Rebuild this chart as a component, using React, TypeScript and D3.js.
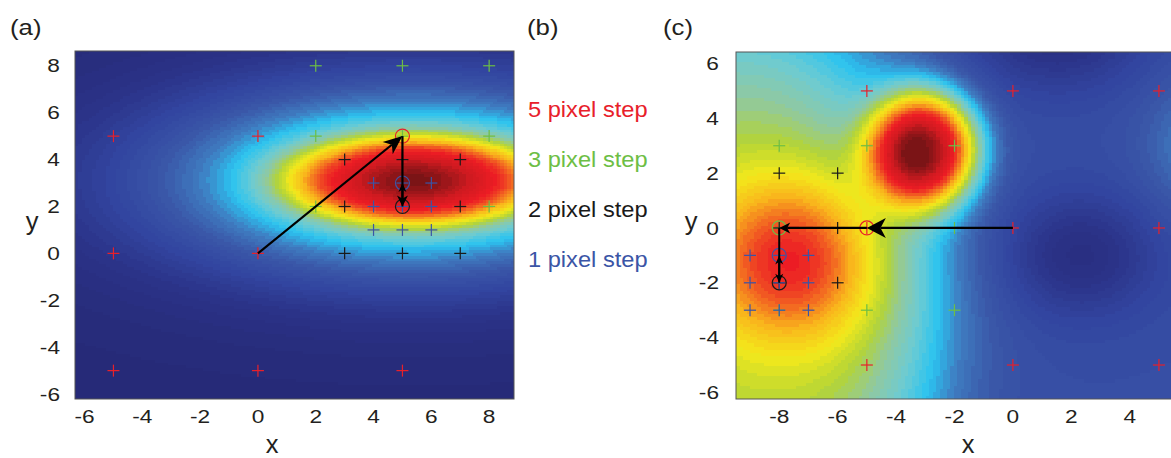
import React, { useMemo } from 'react';
import * as d3 from 'd3';

const W = 1171;
const H = 458;
const FONT = 'Liberation Sans, Arial, Helvetica, sans-serif';

// Axis ranges of the two surfaces
const aXRange = [-6.33, 8.86];
const aYRange = [-6.21, 8.63];
const cXRange = [-9.48, 5.55];
const cYRange = [-6.24, 6.42];

// Tick labels
const aXTicks = [-6, -4, -2, 0, 2, 4, 6, 8];
const aYTicks = [-6, -4, -2, 0, 2, 4, 6, 8];
const cXTicks = [-8, -6, -4, -2, 0, 2, 4];
const cYTicks = [-6, -4, -2, 0, 2, 4, 6];

// Jet-like colour map (value stops and colours)
const cmapStops = [0, 0.08, 0.16, 0.24, 0.31, 0.375, 0.44, 0.5, 0.56, 0.625, 0.7, 0.75, 0.8, 0.84, 0.92, 1];
const cmapColors = [
  '#262A78', '#2B3388', '#3245A0', '#3A57A8', '#3F7BC0', '#2BC3F0', '#6ECBD2', '#8FC9A2',
  '#B4D437', '#F3E91B', '#F9B51C', '#F47920', '#EE3E24', '#EC1C24', '#D01A20', '#7B1416',
];

// Surface components: [centre x, centre y, spread x, spread y, exponent, amplitude]
const surfaceABase = 0;
const surfaceA: number[][] = [
  [5.4, 3.1, 9.1, 4.2, 2, 0.6],
  [5.4, 3.1, 4.5, 1.9, 4, 0.33],
  [5.4, 3.1, 2.0, 0.9, 2, 0.07],
];
const surfaceCBase = 0.2;
const surfaceC: number[][] = [
  [-9.5, -3, 7.4, 11.7, 4, 0.36],
  [-7.6, -1.2, 3.0, 3.0, 2, 0.28],
  [-3.0, 2.9, 1.9, 2.15, 2.6, 0.67],
  [2.3, -1, 2.6, 2.2, 2, -0.15],
  [1.5, 7.3, 3, 2.2, 2, -0.16],
  [6.5, 3, 2, 2.5, 2, 0.12],
];

// Search points per step size, panel (a)
const aStep5 = [[-5, 5], [0, 5], [-5, 0], [0, 0], [-5, -5], [0, -5], [5, -5]];
const aStep3 = [[2, 8], [5, 8], [8, 8], [2, 5], [5, 5], [8, 5], [2, 2], [8, 2]];
const aStep2 = [[3, 4], [5, 4], [7, 4], [3, 2], [7, 2], [3, 0], [5, 0], [7, 0]];
const aStep1 = [[4, 3], [5, 3], [6, 3], [4, 2], [5, 2], [6, 2], [4, 1], [5, 1], [6, 1]];
// Search points per step size, panel (c)
const cStep5 = [[-5, 5], [0, 5], [5, 5], [-5, 0], [0, 0], [5, 0], [-5, -5], [0, -5], [5, -5]];
const cStep3 = [[-8, 3], [-5, 3], [-2, 3], [-8, 0], [-2, 0], [-8, -3], [-5, -3], [-2, -3]];
const cStep2 = [[-8, 2], [-6, 2], [-8, 0], [-6, 0], [-8, -2], [-6, -2]];
const cStep1 = [[-9, -1], [-8, -1], [-7, -1], [-9, -2], [-8, -2], [-7, -2], [-9, -3], [-8, -3], [-7, -3]];

// Selected point at each step: [step, x, y]
const aChosen = [[5, 5, 5], [2, 5, 2], [1, 5, 3]];
const cChosen = [[5, -5, 0], [3, -8, 0], [2, -8, -2], [1, -8, -1]];

// Moves: [step, x1, y1, x2, y2]
const aMoves = [[5, 0, 0, 5, 5], [3, 5, 5, 5, 2], [1, 5, 2, 5, 3]];
const cMoves = [[5, 0, 0, -5, 0], [3, -5, 0, -8, 0], [2, -8, 0, -8, -2], [1, -8, -2, -8, -1]];

const stepSizes = [5, 3, 2, 1];
const stepLabels = ['5 pixel step', '3 pixel step', '2 pixel step', '1 pixel step'];
const stepColors = ['#E8202A', '#6DBE45', '#1A1A1A', '#3B55A6'];

const colorOf = (step: number) => stepColors[stepSizes.indexOf(step)];

const cmap = d3.scaleLinear<string>().domain(cmapStops).range(cmapColors).interpolate(d3.interpolateRgb).clamp(true);
const LEVELS = 64;
const lut = d3.range(LEVELS).map((i) => d3.rgb(cmap(i / (LEVELS - 1))));

function evalSurface(base: number, comps: number[][], x: number, y: number) {
  let v = base;
  for (const [cx, cy, sx, sy, p, amp] of comps) {
    const r = Math.hypot((x - cx) / sx, (y - cy) / sy);
    v += amp * Math.exp(-Math.pow(r, p));
  }
  return Math.max(0, Math.min(1, v));
}

function surfaceImage(xr: number[], yr: number[], base: number, comps: number[][], cell: number) {
  const cols = Math.round((xr[1] - xr[0]) / cell);
  const rows = Math.round((yr[1] - yr[0]) / cell);
  const dx = (xr[1] - xr[0]) / cols;
  const dy = (yr[1] - yr[0]) / rows;
  const canvas = document.createElement('canvas');
  canvas.width = cols;
  canvas.height = rows;
  const ctx = canvas.getContext('2d')!;
  const img = ctx.createImageData(cols, rows);
  for (let j = 0; j < rows; j++) {
    const y = yr[1] - (j + 0.5) * dy;
    for (let i = 0; i < cols; i++) {
      const x = xr[0] + (i + 0.5) * dx;
      const v = evalSurface(base, comps, x, y);
      const c = lut[Math.round(v * (LEVELS - 1))];
      const k = (j * cols + i) * 4;
      img.data[k] = c.r;
      img.data[k + 1] = c.g;
      img.data[k + 2] = c.b;
      img.data[k + 3] = 255;
    }
  }
  ctx.putImageData(img, 0, 0);
  return canvas.toDataURL();
}

function headPath(x1: number, y1: number, x2: number, y2: number, L: number, w: number) {
  const len = Math.hypot(x2 - x1, y2 - y1);
  const ux = (x2 - x1) / len;
  const uy = (y2 - y1) / len;
  const px = -uy;
  const py = ux;
  const bx = x2 - ux * L;
  const by = y2 - uy * L;
  const nx = x2 - ux * L * 0.72;
  const ny = y2 - uy * L * 0.72;
  return {
    d: `M${x2},${y2}L${bx + px * w},${by + py * w}L${nx},${ny}L${bx - px * w},${by - py * w}Z`,
    nx,
    ny,
  };
}

// Text drawn with a slight horizontal stretch
function Label({ x, y, size, stretch = 1, anchor = 'start', fill = '#231F20', children }: {
  x: number; y: number; size: number; stretch?: number; anchor?: string; fill?: string; children: React.ReactNode;
}) {
  return (
    <text transform={`translate(${x},${y}) scale(${stretch},1)`} fontFamily={FONT} fontSize={size}
      textAnchor={anchor as any} fill={fill}>
      {children}
    </text>
  );
}

type Scale = d3.ScaleLinear<number, number>;

function Panel({ sx, sy, url, xTicks, yTicks, steps, chosen, moves, yLabelGap, xTitleX, yTitleX, clipId, bigW }: {
  sx: Scale; sy: Scale; url: string; xTicks: number[]; yTicks: number[]; steps: number[][][];
  chosen: number[][]; moves: number[][]; yLabelGap: number; xTitleX: number; yTitleX: number; clipId: string; bigW: number;
}) {
  const [x0, x1] = sx.range();
  const [y0, y1] = sy.range();
  const left = x0, right = x1, top = y1, bottom = y0;
  const headSize = (step: number) => (step >= 5 ? [19, bigW] : step >= 3 ? [11, 5.5] : [9, 4]);
  return (
    <g>
      <clipPath id={clipId}>
        <rect x={left} y={top} width={right - left} height={bottom - top} />
      </clipPath>
      <image href={url} x={left} y={top} width={right - left} height={bottom - top}
        preserveAspectRatio="none" style={{ imageRendering: 'pixelated' }} />
      <g clipPath={`url(#${clipId})`}>
        {steps.map((pts, si) =>
          pts.map(([x, y], i) => (
            <g key={`${si}-${i}`} stroke={stepColors[si]} strokeWidth={1.2}>
              <line x1={sx(x) - 6} x2={sx(x) + 6} y1={sy(y)} y2={sy(y)} />
              <line x1={sx(x)} x2={sx(x)} y1={sy(y) - 6} y2={sy(y) + 6} />
            </g>
          ))
        )}
        {chosen.map(([s, x, y], i) => (
          <circle key={i} cx={sx(x)} cy={sy(y)} r={7} fill="none" stroke={colorOf(s)} strokeWidth={1.2} />
        ))}
        {moves.map(([s, xa, ya, xb, yb], i) => {
          const [L, w] = headSize(s);
          const h = headPath(sx(xa), sy(ya), sx(xb), sy(yb), L, w);
          return (
            <g key={i}>
              <line x1={sx(xa)} y1={sy(ya)} x2={h.nx} y2={h.ny} stroke="#000" strokeWidth={s >= 3 ? 2.2 : 2} />
              <path d={h.d} fill="#000" />
            </g>
          );
        })}
      </g>
      <rect x={left} y={top} width={right - left} height={bottom - top} fill="none" stroke="#555" strokeWidth={1} />
      {xTicks.map((t) => (
        <Label key={`x${t}`} x={sx(t)} y={bottom + 24} size={18.6} stretch={1.22} anchor="middle">{t}</Label>
      ))}
      {yTicks.map((t) => (
        <Label key={`y${t}`} x={left - yLabelGap} y={sy(t) + 6.6} size={18.6} stretch={1.22} anchor="end">{t}</Label>
      ))}
      <Label x={xTitleX} y={452.5} size={25.5} anchor="middle">x</Label>
      <Label x={yTitleX} y={230} size={25.5} anchor="middle">y</Label>
    </g>
  );
}

export default function App() {
  const ax = d3.scaleLinear().domain(aXRange).range([75, 514]);
  const ay = d3.scaleLinear().domain(aYRange).range([399, 51]);
  const cx = d3.scaleLinear().domain(cXRange).range([736, 1175]);
  const cy = d3.scaleLinear().domain(cYRange).range([399, 52]);

  const urlA = useMemo(() => surfaceImage(aXRange, aYRange, surfaceABase, surfaceA, 0.12), []);
  const urlC = useMemo(() => surfaceImage(cXRange, cYRange, surfaceCBase, surfaceC, 0.12), []);

  return (
    <svg width={W} height={H} style={{ position: 'absolute', left: 0, top: 0, background: '#fff' }}>
      <rect width={W} height={H} fill="#fff" />
      <Panel sx={ax} sy={ay} url={urlA} xTicks={aXTicks} yTicks={aYTicks}
        steps={[aStep5, aStep3, aStep2, aStep1]} chosen={aChosen} moves={aMoves}
        yLabelGap={15} xTitleX={272} yTitleX={32} clipId="clipA" bigW={8} />
      <Panel sx={cx} sy={cy} url={urlC} xTicks={cXTicks} yTicks={cYTicks}
        steps={[cStep5, cStep3, cStep2, cStep1]} chosen={cChosen} moves={cMoves}
        yLabelGap={17} xTitleX={968} yTitleX={691} clipId="clipC" bigW={10} />
      <Label x={10} y={35} size={23} stretch={1.12}>(a)</Label>
      <Label x={527} y={35} size={23} stretch={1.12}>(b)</Label>
      <Label x={663} y={35} size={23} stretch={1.12}>(c)</Label>
      {stepLabels.map((s, i) => (
        <Label key={s} x={528} y={117 + i * 50} size={21.5} stretch={1.1} fill={stepColors[i]}>{s}</Label>
      ))}
    </svg>
  );
}
